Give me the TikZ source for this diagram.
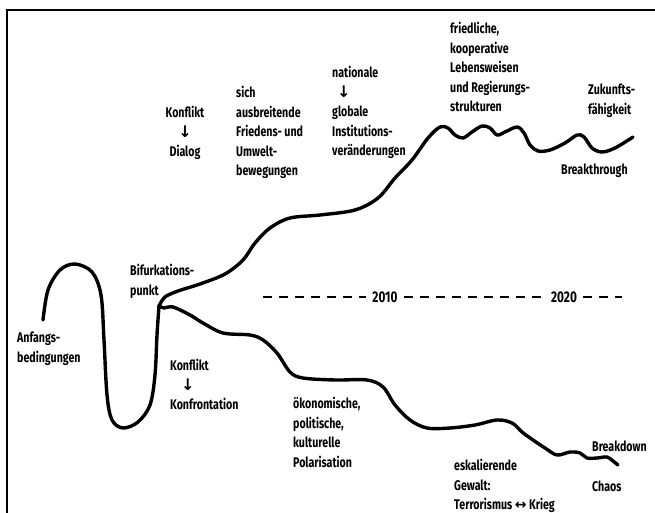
\documentclass[tikz,border=0pt]{standalone}
\usepackage{fontspec}
\setmainfont{Fira Sans}[FakeStretch=0.76]
\newfontfamily\symf{DejaVu Sans}
\newcommand{\darr}{{\symf\bfseries\fontsize{16}{19.5}\selectfont ↓}}
\newcommand{\lrarr}{{\symf\bfseries ↔}}
\begin{document}
\begin{tikzpicture}[x=1pt,y=-1pt,
  lbl/.style={inner sep=0pt,anchor=north west,align=left,font=\fontsize{14}{19.5}\selectfont\bfseries},
  lblc/.style={lbl,anchor=north,align=center},
  yr/.style={inner xsep=6pt,inner ysep=2pt,font=\fontsize{15.5}{16}\selectfont\bfseries},
  curve/.style={line width=3.4pt,line cap=round,line join=round},
  dashline/.style={line width=1.3pt,dash pattern=on 9pt off 7pt},
  frame/.style={line width=2pt}]
\useasboundingbox (0,0) rectangle (655,513);
% frame (left and top edges)
\coordinate (fbl) at (7,513);
\coordinate (ftl) at (7,10);
\coordinate (ftr) at (655,10);
\draw[frame] (fbl) -- (ftl) -- (ftr);
% bifurcation point
\coordinate (B) at (159,306);
% initial curve
\draw[curve] plot[smooth,tension=0.55] coordinates {(43,320) (48,290) (60,270) (75,264) (92,272) (101,295) (104,340) (107,395) (112,420) (123,428) (138,422) (150,405) (155,375) (157,335) (B)};
% upper branch
\draw[curve] plot[smooth,tension=0.55] coordinates {(B) (165,297) (178,291) (200,284) (225,274) (243,260) (255,243) (270,228) (290,218) (320,215) (355,210) (378,198) (395,178) (412,160) (428,138) (440,127) (448,128) (455,135) (463,138) (472,132) (482,126) (490,128) (497,135) (505,132) (517,127) (524,133) (530,145) (538,151) (550,150) (565,143) (577,135) (584,137) (592,148) (602,152) (615,148) (633,137)};
% lower branch
\draw[curve] plot[smooth,tension=0.55] coordinates {(B) (164,308) (173,307) (190,315) (203,323) (223,333) (250,335) (263,340) (277,353) (290,372) (303,378) (335,380) (367,380) (383,387) (395,405) (410,420) (427,428) (450,428) (475,425) (497,420) (512,423) (522,432) (533,440) (545,448) (557,455) (570,452) (580,453) (587,458) (597,458) (607,457) (613,461) (618,465)};
% time axis
\node[yr] (y2010) at (385,297) {2010};
\node[yr] (y2020) at (564,297) {2020};
\coordinate (d0) at (263,297);
\coordinate (d1) at (622,297);
\draw[dashline] (d0) -- (y2010.west);
\draw[dashline] (y2010.east) -- (y2020.west);
\draw[dashline] (y2020.east) -- (d1);
% labels
\node[lblc] (dialog) at (185,106) {Konflikt\\\darr\\Dialog};
\node[lbl] (sich) at (236,86) {sich\\ausbreitende\\Friedens- und\\Umwelt-\\bewegungen};
\node[lbl] (nat) at (332,66) {nationale\\\hspace*{5pt}\darr\\globale\\Institutions-\\veränderungen};
\node[lbl] (fried) at (450,22) {friedliche,\\kooperative\\Lebensweisen\\und Regierungs-\\strukturen};
\node[lbl] (zuk) at (588,84) {Zukunfts-\\fähigkeit};
\node[lbl] (bt) at (561,164) {Breakthrough};
\node[lbl] (bif) at (130,264) {Bifurkations-\\punkt};
\node[lbl] (anf) at (17,332) {Anfangs-\\bedingungen};
\node[lbl] (konf) at (170,359) {Konflikt\\\hspace*{11pt}\darr\\Konfrontation};
\node[lbl] (oek) at (293,397) {ökonomische,\\politische,\\kulturelle\\Polarisation};
\node[lbl] (esk) at (454,459) {eskalierende\\Gewalt:\\Terrorismus \lrarr{} Krieg};
\node[lbl] (bd) at (592,441) {Breakdown};
\node[lbl] (chaos) at (592,481) {Chaos};
\end{tikzpicture}
\end{document}
